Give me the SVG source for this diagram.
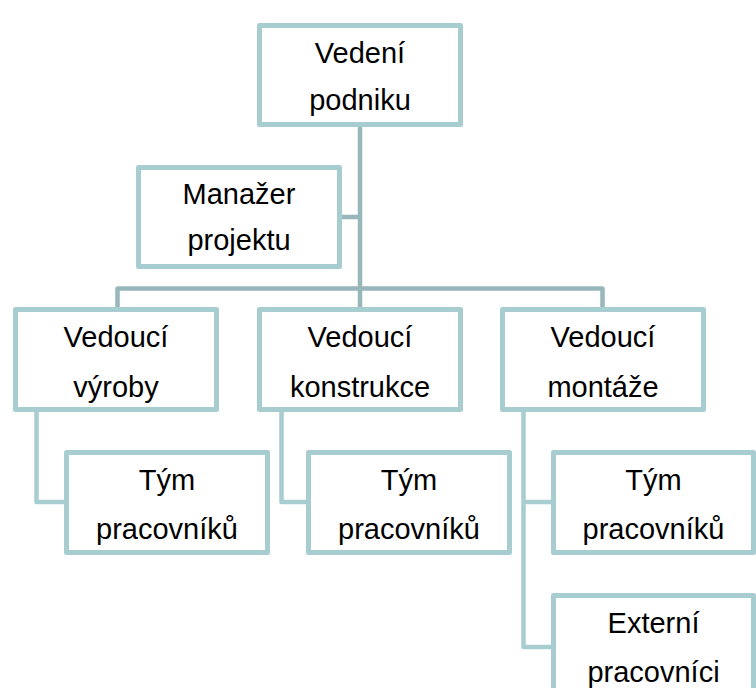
<svg xmlns="http://www.w3.org/2000/svg" width="756" height="688" viewBox="0 0 756 688">
<style>
.box{fill:#ffffff;stroke:#a8cdd1;stroke-width:5;stroke-linejoin:round}
.con{fill:none;stroke:#97b7ba;stroke-width:4.5;stroke-linejoin:round}
.con2{fill:none;stroke:#a8cdd1;stroke-width:4.5;stroke-linejoin:round}
text{font-family:"Liberation Sans",Arial,sans-serif;font-size:29px;fill:#000;text-anchor:middle}
</style>
<rect width="756" height="688" fill="#ffffff"/>
<g id="connectors">
<path class="con" d="M360,127 V309"/>
<path class="con" d="M341,217 H360"/>
<path class="con" d="M117.5,309 V288.5 H602.5 V309"/>
<path class="con2" d="M36.5,412 V502 H66"/>
<path class="con2" d="M281.5,412 V502 H308"/>
<path class="con2" d="M523.5,412 V647 H553"/>
<path class="con2" d="M523.5,502 H553"/>
</g>
<g id="vedeni">
<rect class="box" x="259.5" y="25.5" width="201" height="99"/>
<text x="360" y="63">Vedení</text>
<text x="360" y="110">podniku</text>
</g>
<g id="manazer">
<rect class="box" x="138.5" y="167.5" width="201" height="99"/>
<text x="239" y="204">Manažer</text>
<text x="239" y="250">projektu</text>
</g>
<g id="vyroby">
<rect class="box" x="15.5" y="309.5" width="201" height="100"/>
<text x="116" y="347">Vedoucí</text>
<text x="116" y="397">výroby</text>
</g>
<g id="konstrukce">
<rect class="box" x="259.5" y="309.5" width="201" height="100"/>
<text x="360" y="347">Vedoucí</text>
<text x="360" y="397">konstrukce</text>
</g>
<g id="montaze">
<rect class="box" x="502.5" y="309.5" width="201" height="100"/>
<text x="603" y="347">Vedoucí</text>
<text x="603" y="397">montáže</text>
</g>
<g id="tym1">
<rect class="box" x="66.5" y="452.5" width="201" height="100"/>
<text x="167" y="490">Tým</text>
<text x="167" y="539">pracovníků</text>
</g>
<g id="tym2">
<rect class="box" x="308.5" y="452.5" width="201" height="100"/>
<text x="409" y="490">Tým</text>
<text x="409" y="539">pracovníků</text>
</g>
<g id="tym3">
<rect class="box" x="553.5" y="452.5" width="200" height="100"/>
<text x="653.5" y="490">Tým</text>
<text x="653.5" y="539">pracovníků</text>
</g>
<g id="externi">
<rect class="box" x="553.5" y="595.5" width="200" height="100"/>
<text x="653.5" y="633">Externí</text>
<text x="653.5" y="682">pracovníci</text>
</g>
</svg>
